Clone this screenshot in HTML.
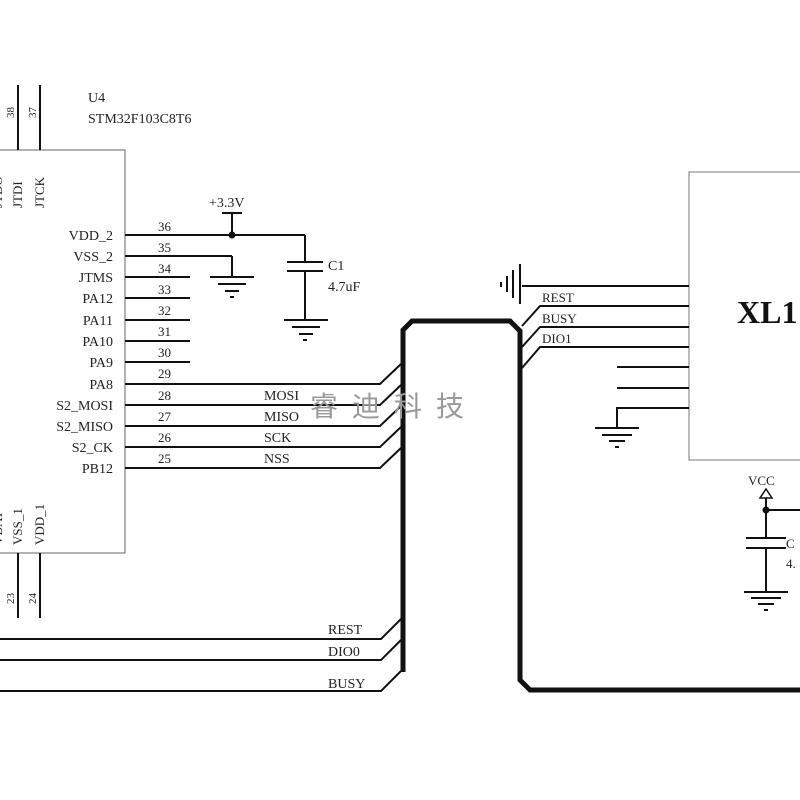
<!DOCTYPE html>
<html><head><meta charset="utf-8"><style>
html,body{margin:0;padding:0;background:#fff;width:800px;height:800px;overflow:hidden}
svg{display:block}
text{font-family:"Liberation Serif",serif;fill:#222}
</style></head><body>
<svg width="800" height="800" viewBox="0 0 800 800" xmlns="http://www.w3.org/2000/svg">
<g stroke="#111" fill="none">
<rect x="-5" y="150" width="130" height="403" stroke="#666" stroke-width="1"/>
<line x1="18" y1="85" x2="18" y2="150" stroke-width="2"/>
<line x1="40" y1="85" x2="40" y2="150" stroke-width="2"/>
<line x1="18" y1="553" x2="18" y2="618" stroke-width="2"/>
<line x1="40" y1="553" x2="40" y2="618" stroke-width="2"/>
<g stroke-width="2">
<line x1="125" y1="235" x2="305" y2="235"/>
<line x1="305" y1="235" x2="305" y2="262"/>
<line x1="125" y1="256" x2="232" y2="256"/>
<line x1="232" y1="256" x2="232" y2="277"/>
<line x1="125" y1="277" x2="190" y2="277"/>
<line x1="125" y1="298" x2="190" y2="298"/>
<line x1="125" y1="320" x2="190" y2="320"/>
<line x1="125" y1="341" x2="190" y2="341"/>
<line x1="125" y1="362" x2="190" y2="362"/>
<polyline points="125,384 380,384 401,364"/>
<polyline points="125,405 380,405 401,385"/>
<polyline points="125,426 380,426 401,406"/>
<polyline points="125,447 380,447 401,427"/>
<polyline points="125,468 380,468 401,448"/>
<polyline points="0,639 381,639 401,619"/>
<polyline points="0,660 381,660 401,640"/>
<polyline points="0,691 381,691 401,671"/>
<line x1="232" y1="213" x2="232" y2="235"/>
<line x1="222" y1="213" x2="242" y2="213"/>
<line x1="287" y1="262" x2="323" y2="262"/>
<line x1="287" y1="271" x2="323" y2="271"/>
<line x1="305" y1="271" x2="305" y2="320"/>
<line x1="210" y1="277" x2="254" y2="277"/><line x1="218" y1="284" x2="246" y2="284"/><line x1="225" y1="291" x2="239" y2="291"/><line x1="230" y1="297" x2="234" y2="297"/>
<line x1="284" y1="320" x2="328" y2="320"/><line x1="292" y1="327" x2="320" y2="327"/><line x1="299" y1="334" x2="313" y2="334"/><line x1="303" y1="340" x2="307" y2="340"/>
</g>
<circle cx="232" cy="235" r="3" fill="#111"/>
<polyline points="403,672 403,330 412,321 510,321 520,331 520,680 530,690 800,690" stroke-width="5"/>
<rect x="689" y="172" width="130" height="288" stroke="#777" stroke-width="1"/>
<g stroke-width="2">
<line x1="522" y1="286" x2="689" y2="286"/>
<polyline points="522,326 540,306 689,306"/>
<polyline points="522,347 540,327 689,327"/>
<polyline points="522,368 540,347 689,347"/>
<line x1="617" y1="367" x2="689" y2="367"/>
<line x1="617" y1="388" x2="689" y2="388"/>
<polyline points="617,428 617,408 689,408"/>
<line x1="595" y1="428" x2="639" y2="428"/><line x1="602" y1="435" x2="632" y2="435"/><line x1="609" y1="441" x2="625" y2="441"/><line x1="615" y1="447" x2="619" y2="447"/>
<line x1="520" y1="264" x2="520" y2="304"/><line x1="513" y1="270" x2="513" y2="298"/><line x1="507" y1="276" x2="507" y2="292"/><line x1="501" y1="282" x2="501" y2="287"/>
<line x1="766" y1="498" x2="766" y2="538"/>
<line x1="766" y1="510" x2="800" y2="510"/>
<line x1="746" y1="538" x2="786" y2="538"/>
<line x1="746" y1="548" x2="786" y2="548"/>
<line x1="766" y1="548" x2="766" y2="592"/>
<line x1="744" y1="592" x2="788" y2="592"/><line x1="751" y1="598" x2="781" y2="598"/><line x1="758" y1="604" x2="774" y2="604"/><line x1="764" y1="610" x2="768" y2="610"/>
</g>
<polygon points="766,489 760,498 772,498" stroke-width="1.5"/>
<circle cx="766" cy="510" r="3" fill="#111"/>
</g>
<g font-size="14">
<text x="88" y="102">U4</text>
<text x="88" y="123">STM32F103C8T6</text>
<g text-anchor="end">
<text x="113" y="240">VDD_2</text><text x="113" y="261">VSS_2</text><text x="113" y="282">JTMS</text>
<text x="113" y="303">PA12</text><text x="113" y="325">PA11</text><text x="113" y="346">PA10</text>
<text x="113" y="367">PA9</text><text x="113" y="389">PA8</text><text x="113" y="410">S2_MOSI</text>
<text x="113" y="431">S2_MISO</text><text x="113" y="452">S2_CK</text><text x="113" y="473">PB12</text>
</g>
<g font-size="13">
<text x="158" y="231">36</text><text x="158" y="252">35</text><text x="158" y="273">34</text>
<text x="158" y="294">33</text><text x="158" y="315">32</text><text x="158" y="336">31</text>
<text x="158" y="357">30</text><text x="158" y="378">29</text><text x="158" y="400">28</text>
<text x="158" y="421">27</text><text x="158" y="442">26</text><text x="158" y="463">25</text>
</g>
<text x="264" y="400">MOSI</text><text x="264" y="421">MISO</text><text x="264" y="442">SCK</text><text x="264" y="463">NSS</text>
<text x="209" y="207">+3.3V</text>
<text x="328" y="270">C1</text><text x="328" y="291">4.7uF</text>
<text x="328" y="634">REST</text><text x="328" y="656">DIO0</text><text x="328" y="688">BUSY</text>
<text x="542" y="302" font-size="13">REST</text><text x="542" y="323" font-size="13">BUSY</text><text x="542" y="343" font-size="13">DIO1</text>
<text x="748" y="485" font-size="13">VCC</text>
<text x="786" y="548" font-size="13">C</text><text x="786" y="568" font-size="13">4.</text>
<g font-size="13">
<text transform="translate(44,208) rotate(-90)">JTCK</text>
<text transform="translate(22,208) rotate(-90)">JTDI</text>
<text transform="translate(2,208) rotate(-90)">JTDO</text>
<text transform="translate(14,118) rotate(-90)" font-size="11">38</text>
<text transform="translate(36,118) rotate(-90)" font-size="11">37</text>
<text transform="translate(22,545) rotate(-90)">VSS_1</text>
<text transform="translate(44,545) rotate(-90)">VDD_1</text>
<text transform="translate(2,545) rotate(-90)">VBAT</text>
<text transform="translate(14,604) rotate(-90)" font-size="11">23</text>
<text transform="translate(36,604) rotate(-90)" font-size="11">24</text>
</g>
</g>
<text x="737" y="323" font-size="32" font-weight="bold" style="fill:#111">XL1</text>
<text x="310" y="416" font-size="28" style="font-family:'Liberation Sans','Noto Sans CJK SC',sans-serif;fill:#999" letter-spacing="14">睿迪科技</text>
</svg>
</body></html>
